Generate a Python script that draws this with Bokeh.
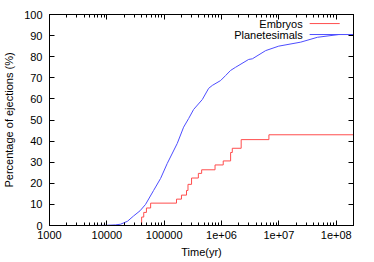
from bokeh.plotting import figure
from bokeh.models import (Range1d, FixedTicker, LinearAxis, LogAxis, Label)
from bokeh.embed import file_html
from bokeh.resources import INLINE

# ---- data ----
x_ticks = [1e3, 1e4, 1e5, 1e6, 1e7, 1e8]
x_tick_labels = ["1000", "10000", "100000", "1e+06", "1e+07", "1e+08"]
y_ticks = [0, 10, 20, 30, 40, 50, 60, 70, 80, 90, 100]

embryo_t = [4.04e4, 4.04e4, 4.4e4, 4.9e4, 5.8e4, 1.64e5, 2.0e5, 2.45e5, 2.6e5, 3.0e5,
            3.94e5, 4.5e5, 7.7e5, 1.07e6, 1.44e6, 1.54e6, 2.2e6, 6.7e6, 2.0e8]
embryo_pct = [0.0, 4.0, 6.2, 8.3, 10.6, 12.5, 14.4, 16.6, 19.5, 22.5,
              24.7, 26.4, 28.7, 30.6, 34.6, 36.6, 40.7, 43.0, 43.0]

planet_t = [5.0e3, 1.0e4, 1.42e4, 1.73e4, 2.29e4, 2.92e4, 3.8e4, 4.73e4, 6.53e4, 8.65e4,
            1.13e5, 1.69e5, 2.18e5, 2.67e5, 3.26e5, 4.62e5, 5.96e5, 6.91e5, 9.64e5, 1.18e6,
            1.44e6, 1.76e6, 2.97e6, 3.45e6, 5.89e6, 9.93e6, 2.4e7, 4.7e7, 1.11e8, 2.0e8]
planet_pct = [0.0, 0.1, 0.3, 0.6, 2.0, 4.5, 7.0, 10.0, 16.6, 22.3,
              29.4, 38.9, 46.6, 50.7, 55.0, 59.7, 65.0, 66.4, 68.7, 71.1,
              73.5, 75.0, 78.7, 79.0, 82.9, 85.0, 86.9, 89.2, 90.5, 90.5]

series_names = ["Embryos", "Planetesimals"]
series_colors = ["#ff4d4d", "#4d4dff"]

FONT = "Liberation Sans"

p = figure(frame_width=304, frame_height=211, x_axis_type="log",
           x_range=Range1d(1e3, 2e8), y_range=Range1d(0, 100),
           output_backend="svg", toolbar_location=None,
           min_border_left=49, min_border_right=13, min_border_top=14, min_border_bottom=30)
p.xgrid.visible = False
p.ygrid.visible = False
p.outline_line_color = "black"
p.outline_line_width = 1
p.background_fill_color = "white"

p.step(embryo_t, embryo_pct, mode="after", line_color=series_colors[0], line_width=1)
p.line(planet_t, planet_pct, line_color=series_colors[1], line_width=1)

minor = [m * 10 ** e for e in range(3, 9) for m in range(2, 10) if m * 10 ** e <= 2e8]
xa = p.xaxis[0]
xa.ticker = FixedTicker(ticks=x_ticks, minor_ticks=minor)
xa.major_label_overrides = {t: l for t, l in zip(x_ticks, x_tick_labels)}
xa.axis_label = "Time(yr)"
ya = p.yaxis[0]
ya.ticker = FixedTicker(ticks=y_ticks)
ya.axis_label = "Percentage of ejections (%)"

for ax in (xa, ya):
    ax.major_tick_in = 5
    ax.major_tick_out = 0
    ax.minor_tick_in = 3
    ax.minor_tick_out = 0
    ax.major_label_text_font = FONT
    ax.major_label_text_font_size = "11px"
    ax.major_label_text_color = "black"
    ax.axis_label_text_font = FONT
    ax.axis_label_text_font_size = "11px"
    ax.axis_label_text_font_style = "normal"
    ax.axis_label_text_color = "black"
    ax.axis_line_color = "black"
    ax.major_tick_line_color = "black"
    ax.minor_tick_line_color = "black"
ya.minor_tick_line_color = None
ya.major_label_standoff = 7
ya.axis_label_standoff = 6
xa.major_label_standoff = 5
xa.axis_label_standoff = 4

ra = LinearAxis(ticker=FixedTicker(ticks=y_ticks), major_tick_in=5, major_tick_out=0,
                minor_tick_line_color=None, axis_line_color="black",
                major_label_text_font_size="2px", major_label_text_alpha=0, major_label_standoff=0)
p.add_layout(ra, "right")
ta = LogAxis(ticker=FixedTicker(ticks=x_ticks, minor_ticks=minor), major_tick_in=5, major_tick_out=0,
             minor_tick_in=3, minor_tick_out=0, axis_line_color="black",
             major_label_text_font_size="2px", major_label_text_alpha=0, major_label_standoff=0)
p.add_layout(ta, "above")

# legend (text right-aligned, sample line to the right), gnuplot style
leg_text_x = 2.6e7
leg_line_x0, leg_line_x1 = 3.44e7, 1.15e8
leg_y = [95.7, 90.5]
for name, col, yy in zip(series_names, series_colors, leg_y):
    p.add_layout(Label(x=leg_text_x, y=yy, text=name, text_align="right", text_baseline="middle",
                       text_font=FONT, text_font_size="11px", text_color="black"))
    p.segment(x0=[leg_line_x0], y0=[yy], x1=[leg_line_x1], y1=[yy], line_color=col, line_width=1)

open("out.html", "w").write(file_html(p, INLINE))
